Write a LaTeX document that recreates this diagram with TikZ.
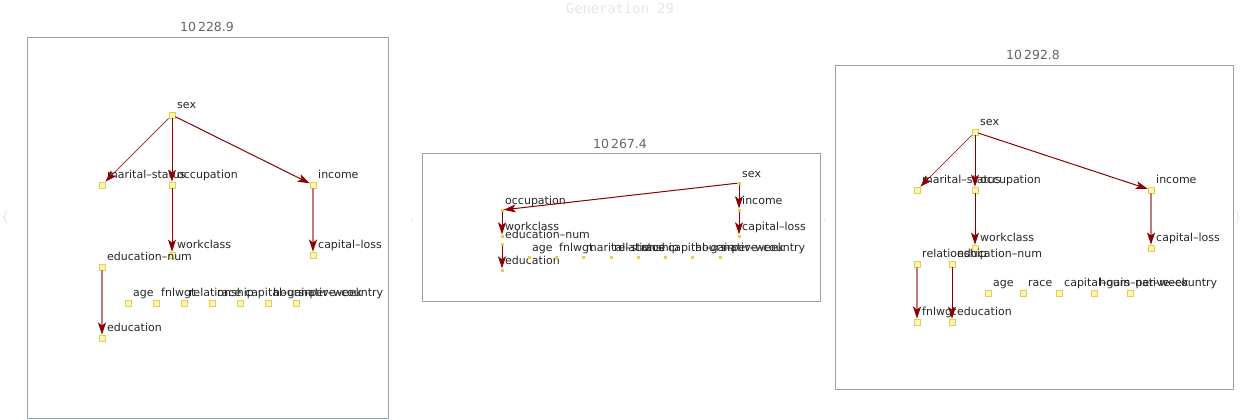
\documentclass[tikz,border=0pt]{standalone}
\usepackage{fontspec}
\setmainfont{DejaVu Sans}
\newfontfamily\monofam{DejaVu Sans Mono}
\usetikzlibrary{arrows.meta}
\definecolor{ndline}{HTML}{E6CF4A}
\definecolor{ndfill}{HTML}{FBF4B8}
\definecolor{dred}{HTML}{8B0000}
\definecolor{lred}{HTML}{C07A7A}
\definecolor{mred}{HTML}{A03C3C}
\definecolor{frame}{HTML}{95A5A5}
\definecolor{ttl}{HTML}{666666}
\definecolor{faint}{HTML}{E6E6E6}
\tikzset{
  nd/.style={draw=ndline, fill=ndfill, minimum size=6pt, inner sep=0pt, line width=0.8pt},
  sn/.style={fill=ndline, minimum size=3pt, inner sep=0pt},
  lb/.style={anchor=base west, font=\fontsize{11}{11}\selectfont, text=black!85, inner sep=0pt},
  tip/.style={-{Stealth[length=12pt,width=8pt,inset=3pt,color=dred]}},
  ed/.style={dred, line width=1pt, tip},
  edthin/.style={dred, line width=0.6pt, tip},
  edm/.style={mred, line width=0.8pt, tip},
  edl/.style={lred, line width=2pt, tip},
  panel/.style={draw=frame, line width=1pt},
  ptitle/.style={text=ttl, font=\fontsize{12.5}{12.5}\selectfont},
  fnt/.style={text=faint, font=\fontsize{13}{13}\selectfont},
}
% name, x, y, text
\newcommand\bignd[4]{\node[nd] (#1) at (#2,#3) {}; \node[lb] (#1-l) at (#2+5,#3-7) {#4};}
\newcommand\smlnd[4]{\node[sn] (#1) at (#2,#3) {}; \node[lb] (#1-l) at (#2+3,#3-6) {#4};}
\begin{document}
\begin{tikzpicture}[x=1pt, y=-1pt]
\useasboundingbox (0,0) rectangle (1242,420);
\node[text=faint, font=\monofam\fontsize{13.8}{13.8}\selectfont] (gen) at (620,8) {Generation 29};
\node[fnt] (br1) at (5,218) {\{};
\node[fnt] (c1) at (412,220) {,};
\node[fnt] (c2) at (825,220) {,};
\node[fnt] (br2) at (1238,218) {\}};

% ---------- Panel 1 ----------
\node[panel, minimum width=361pt, minimum height=381pt, anchor=north west, inner sep=0pt] (p1) at (27,37) {};
\node[ptitle] (t1) at (207,27) {10\,228.9};
\bignd{a-sex}{172}{115}{sex}
\bignd{a-ms}{102}{185}{marital–status}
\bignd{a-occ}{172}{185}{occupation}
\bignd{a-inc}{313}{185}{income}
\bignd{a-wc}{172}{255}{workclass}
\bignd{a-cl}{313}{255}{capital–loss}
\bignd{a-en}{102}{267}{education–num}
\bignd{a-age}{128}{303}{age}
\bignd{a-fn}{156}{303}{fnlwgt}
\bignd{a-rel}{184}{303}{relationship}
\bignd{a-race}{212}{303}{race}
\bignd{a-cg}{240}{303}{capital–gain}
\bignd{a-hpw}{268}{303}{hours–per–week}
\bignd{a-nc}{296}{303}{native–country}
\bignd{a-edu}{102}{338}{education}
\draw[edm] (a-sex) -- (a-ms);
\draw[ed] (a-sex) -- (a-occ);
\draw[ed] (a-sex) -- (a-inc);
\draw[ed] (a-occ) -- (a-wc);
\draw[edl] (a-inc) -- (a-cl);
\draw[edl] (a-en) -- (a-edu);

% ---------- Panel 2 ----------
\node[panel, minimum width=398pt, minimum height=148pt, anchor=north west, inner sep=0pt] (p2) at (422,153) {};
\node[ptitle] (t2) at (620,144) {10\,267.4};
\smlnd{b-sex}{739}{183}{sex}
\smlnd{b-occ}{502}{210}{occupation}
\smlnd{b-inc}{739}{210}{income}
\smlnd{b-wc}{502}{236}{workclass}
\smlnd{b-cl}{739}{236}{capital–loss}
\smlnd{b-en}{502}{244}{education–num}
\smlnd{b-edu}{502}{270}{education}
\smlnd{b-age}{529}{257}{age}
\smlnd{b-fn}{556}{257}{fnlwgt}
\smlnd{b-ms}{583}{257}{marital–status}
\smlnd{b-rel}{611}{257}{relationship}
\smlnd{b-race}{638}{257}{race}
\smlnd{b-cg}{665}{257}{capital–gain}
\smlnd{b-hpw}{692}{257}{hours–per–week}
\smlnd{b-nc}{720}{257}{native–country}
\draw[ed] (b-sex) -- (b-occ);
\draw[ed] (b-sex) -- (b-inc);
\draw[ed] (b-inc) -- (b-cl);
\draw[ed] (b-occ) -- (b-wc);
\draw[ed] (b-en) -- (b-edu);

% ---------- Panel 3 ----------
\node[panel, minimum width=398pt, minimum height=324pt, anchor=north west, inner sep=0pt] (p3) at (835,65) {};
\node[ptitle] (t3) at (1033,55) {10\,292.8};
\bignd{c-sex}{975}{132}{sex}
\bignd{c-ms}{917}{190}{marital–status}
\bignd{c-occ}{975}{190}{occupation}
\bignd{c-inc}{1151}{190}{income}
\bignd{c-wc}{975}{248}{workclass}
\bignd{c-cl}{1151}{248}{capital–loss}
\bignd{c-rel}{917}{264}{relationship}
\bignd{c-en}{952}{264}{education–num}
\bignd{c-age}{988}{293}{age}
\bignd{c-race}{1023}{293}{race}
\bignd{c-cg}{1059}{293}{capital–gain}
\bignd{c-hpw}{1094}{293}{hours–per–week}
\bignd{c-nc}{1130}{293}{native–country}
\bignd{c-fn}{917}{322}{fnlwgt}
\bignd{c-edu}{952}{322}{education}
\draw[edthin] (c-sex) -- (c-ms);
\draw[ed] (c-sex) -- (c-occ);
\draw[ed] (c-sex) -- (c-inc);
\draw[ed] (c-occ) -- (c-wc);
\draw[edl] (c-inc) -- (c-cl);
\draw[edl] (c-rel) -- (c-fn);
\draw[ed] (c-en) -- (c-edu);
\end{tikzpicture}
\end{document}
